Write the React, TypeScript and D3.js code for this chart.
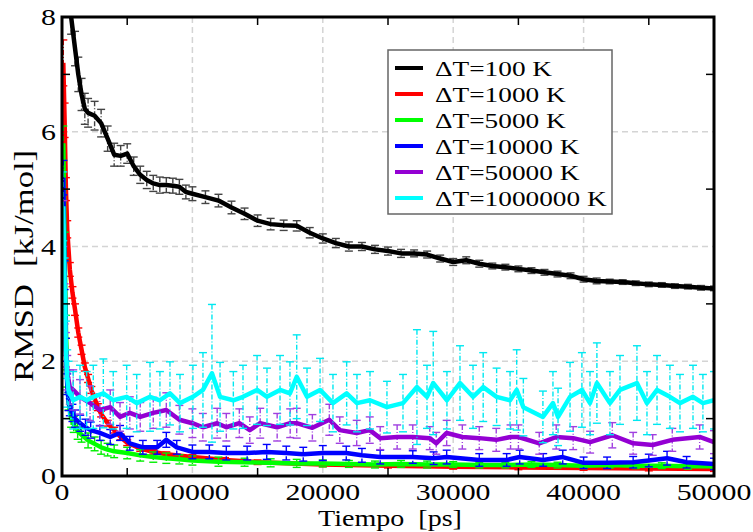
import React from 'react';
import * as d3 from 'd3';

const W = 753;
const H = 532;
const PL = 62, PR = 714, PT = 17, PB = 476;

const xMajor = [0, 10000, 20000, 30000, 40000, 50000];
const xMinor = [5000, 15000, 25000, 35000, 45000];
const yMajor = [0, 2, 4, 6, 8];
const yMinor = [1, 3, 5, 7];
const xGrid = [10000, 20000, 30000, 40000];
const yGrid = [2, 4, 6];

const legendLabels = ['ΔT=100 K', 'ΔT=1000 K', 'ΔT=5000 K', 'ΔT=10000 K', 'ΔT=50000 K', 'ΔT=1000000 K'];
const colors = ['#000000', '#ff0000', '#00ff00', '#0000ff', '#9400d3', '#00ffff'];
const errColors = ['#444444', '#ff0000', '#00ee00', '#0000ff', '#a040e0', '#00e8f0'];

// ΔT=100 K
const t100 = [700, 1000, 1250, 1500, 1750, 2000, 2500, 3000, 3500, 4000, 4500, 5000, 5500, 6000, 6500, 7000, 7500, 8000, 8500, 9000, 9500, 10000, 11000, 12000, 13000, 14000, 15000, 16000, 17000, 18000, 19000, 20000, 21000, 22000, 23000, 24000, 25000, 26000, 27000, 28000, 29000, 30000, 31000, 32000, 33000, 34000, 35000, 36000, 37000, 38000, 39000, 40000, 41000, 42000, 43000, 44000, 45000, 46000, 47000, 48000, 49000, 50000];
const v100 = [8.0, 7.45, 7.0, 6.65, 6.4, 6.33, 6.28, 6.15, 5.88, 5.6, 5.58, 5.62, 5.4, 5.25, 5.16, 5.1, 5.07, 5.07, 5.06, 5.04, 4.95, 4.92, 4.86, 4.8, 4.68, 4.57, 4.45, 4.39, 4.37, 4.36, 4.24, 4.14, 4.06, 4.0, 4.0, 3.95, 3.92, 3.88, 3.88, 3.86, 3.79, 3.73, 3.76, 3.7, 3.66, 3.64, 3.61, 3.58, 3.55, 3.52, 3.49, 3.43, 3.4, 3.39, 3.38, 3.36, 3.34, 3.33, 3.31, 3.3, 3.28, 3.27];
const e100 = [0.3, 0.3, 0.3, 0.28, 0.27, 0.25, 0.25, 0.24, 0.22, 0.2, 0.18, 0.17, 0.16, 0.15, 0.15, 0.14, 0.14, 0.13, 0.13, 0.13, 0.12, 0.12, 0.11, 0.11, 0.11, 0.1, 0.1, 0.1, 0.09, 0.09, 0.09, 0.08, 0.08, 0.08, 0.07, 0.07, 0.07, 0.07, 0.06, 0.06, 0.06, 0.06, 0.06, 0.06, 0.05, 0.05, 0.05, 0.05, 0.05, 0.05, 0.05, 0.05, 0.05, 0.04, 0.04, 0.04, 0.04, 0.04, 0.04, 0.04, 0.04, 0.04];

// ΔT=1000 K
const t1000 = [100, 200, 300, 400, 600, 800, 1000, 1250, 1500, 1750, 2000, 2250, 2500, 2750, 3000, 3500, 4000, 4500, 5000, 6000, 7000, 8000, 10000, 12500, 15000, 20000, 25000, 30000, 35000, 40000, 45000, 50000];
const v1000 = [7.2, 6.2, 5.0, 4.3, 3.6, 3.2, 2.9, 2.5, 2.2, 1.9, 1.7, 1.5, 1.35, 1.2, 1.08, 0.92, 0.8, 0.68, 0.58, 0.48, 0.42, 0.38, 0.33, 0.28, 0.24, 0.2, 0.18, 0.16, 0.15, 0.14, 0.13, 0.12];
const e1000 = [0.4, 0.3, 0.2, 0.15, 0.12, 0.1, 0.1, 0.08, 0.08, 0.07, 0.07, 0.06, 0.06, 0.06, 0.05, 0.05, 0.05, 0.05, 0.05, 0.05, 0.04, 0.04, 0.04, 0.04, 0.04, 0.04, 0.04, 0.04, 0.04, 0.04, 0.04, 0.04];

// ΔT=5000 K
const t5000 = [100, 200, 300, 400, 500, 700, 900, 1200, 1500, 2000, 2500, 3000, 3500, 4000, 5000, 6000, 7000, 8000, 9000, 10000, 12000, 14000, 16000, 18000, 20000, 22000, 24000, 26000, 28000, 30000, 32000, 34000, 36000, 38000, 40000, 42000, 44000, 46000, 48000, 50000];
const v5000 = [5.8, 4.0, 2.6, 1.7, 1.3, 1.0, 0.9, 0.78, 0.72, 0.62, 0.56, 0.5, 0.46, 0.43, 0.4, 0.36, 0.33, 0.31, 0.29, 0.27, 0.25, 0.24, 0.23, 0.22, 0.22, 0.21, 0.2, 0.21, 0.2, 0.2, 0.19, 0.19, 0.2, 0.19, 0.18, 0.19, 0.18, 0.18, 0.17, 0.17];
const e5000 = [0.3, 0.25, 0.2, 0.15, 0.15, 0.15, 0.14, 0.14, 0.13, 0.13, 0.12, 0.12, 0.11, 0.11, 0.1, 0.1, 0.09, 0.09, 0.08, 0.08, 0.08, 0.07, 0.07, 0.07, 0.06, 0.06, 0.06, 0.06, 0.06, 0.05, 0.05, 0.05, 0.05, 0.05, 0.05, 0.05, 0.05, 0.05, 0.05, 0.05];

// ΔT=10000 K
const t10000 = [100, 200, 300, 400, 500, 600, 800, 1000, 1400, 1800, 2200, 2900, 3700, 4450, 5200, 6200, 7300, 8000, 8800, 10000, 11300, 12600, 14200, 15700, 17200, 18500, 20000, 21800, 23000, 24400, 26900, 28500, 29500, 32000, 34100, 35100, 36900, 38400, 40000, 41800, 43800, 45000, 46400, 47900, 50000];
const v10000 = [5.2, 3.5, 2.2, 1.6, 1.3, 1.2, 1.1, 1.0, 0.92, 0.85, 0.8, 0.75, 0.68, 0.75, 0.57, 0.5, 0.5, 0.63, 0.5, 0.42, 0.42, 0.4, 0.4, 0.42, 0.4, 0.38, 0.4, 0.4, 0.36, 0.33, 0.33, 0.31, 0.33, 0.28, 0.28, 0.33, 0.28, 0.33, 0.23, 0.23, 0.24, 0.27, 0.31, 0.24, 0.21];
const e10000 = [0.3, 0.25, 0.2, 0.18, 0.16, 0.15, 0.15, 0.15, 0.14, 0.14, 0.14, 0.13, 0.13, 0.13, 0.12, 0.12, 0.12, 0.13, 0.12, 0.12, 0.12, 0.12, 0.12, 0.13, 0.12, 0.12, 0.13, 0.12, 0.12, 0.12, 0.11, 0.11, 0.12, 0.11, 0.11, 0.12, 0.11, 0.12, 0.1, 0.1, 0.1, 0.11, 0.12, 0.1, 0.1];

// ΔT=50000 K
const t50000 = [100, 200, 300, 400, 600, 860, 1380, 2150, 2900, 3700, 4450, 5200, 6000, 7000, 8000, 9000, 10000, 10800, 11900, 12600, 13600, 14400, 15200, 16500, 17500, 18000, 19200, 20500, 21300, 22600, 23600, 24400, 25700, 26900, 28200, 28700, 29500, 30700, 32000, 33300, 34400, 35000, 36600, 37900, 39200, 40500, 42200, 43800, 45300, 46800, 48900, 50000];
const v50000 = [4.4, 3.0, 2.2, 1.8, 1.55, 1.5, 1.38, 1.27, 1.15, 1.2, 1.03, 1.1, 1.03, 1.1, 1.15, 0.98, 0.92, 0.85, 0.92, 0.85, 0.92, 0.8, 0.92, 0.85, 0.92, 0.92, 0.84, 0.98, 0.8, 0.75, 0.8, 0.66, 0.68, 0.68, 0.66, 0.57, 0.75, 0.68, 0.66, 0.63, 0.68, 0.68, 0.57, 0.68, 0.66, 0.59, 0.71, 0.57, 0.54, 0.63, 0.68, 0.59];
const e50000 = [0.4, 0.35, 0.3, 0.3, 0.3, 0.35, 0.3, 0.3, 0.28, 0.3, 0.25, 0.28, 0.25, 0.27, 0.3, 0.25, 0.25, 0.24, 0.26, 0.24, 0.25, 0.23, 0.26, 0.24, 0.25, 0.26, 0.23, 0.27, 0.23, 0.22, 0.23, 0.2, 0.21, 0.21, 0.2, 0.19, 0.22, 0.21, 0.2, 0.2, 0.21, 0.21, 0.19, 0.21, 0.2, 0.19, 0.22, 0.19, 0.18, 0.2, 0.21, 0.2];

// ΔT=1000000 K
const t1e6 = [100, 200, 300, 400, 500, 860, 1380, 1890, 2400, 3170, 3930, 4960, 5730, 6750, 7510, 8280, 9050, 10040, 10810, 11500, 12120, 13140, 13880, 14960, 15720, 16720, 17480, 18000, 18790, 19790, 20780, 21830, 22620, 23620, 24920, 26150, 27220, 27990, 28470, 29520, 30520, 31520, 32300, 33330, 34360, 34870, 35380, 36880, 37650, 38040, 38960, 39870, 40490, 41020, 42020, 42790, 44090, 44860, 45630, 46620, 47390, 48390, 49150, 50000];
const v1e6 = [4.7, 3.3, 2.2, 1.7, 1.5, 1.32, 1.38, 1.32, 1.38, 1.44, 1.32, 1.38, 1.27, 1.38, 1.32, 1.44, 1.27, 1.38, 1.5, 1.79, 1.38, 1.32, 1.38, 1.5, 1.38, 1.5, 1.44, 1.73, 1.38, 1.5, 1.27, 1.44, 1.27, 1.32, 1.2, 1.27, 1.55, 1.38, 1.62, 1.32, 1.62, 1.38, 1.55, 1.38, 1.32, 1.5, 1.2, 1.03, 1.27, 1.03, 1.38, 1.5, 1.27, 1.62, 1.27, 1.5, 1.62, 1.27, 1.5, 1.38, 1.27, 1.38, 1.27, 1.32];
const e1e6 = [0.6, 0.5, 0.5, 0.5, 0.5, 0.5, 0.55, 0.5, 0.55, 0.6, 0.5, 0.55, 0.5, 0.6, 0.5, 0.55, 0.5, 0.55, 0.65, 1.2, 0.6, 0.5, 0.55, 0.6, 0.5, 0.6, 0.55, 0.73, 0.5, 0.55, 0.5, 0.55, 0.5, 0.5, 0.45, 0.5, 1.0, 0.55, 0.9, 0.5, 0.65, 0.55, 0.6, 0.5, 0.5, 0.7, 0.5, 0.45, 0.55, 0.5, 0.6, 0.65, 0.55, 0.7, 0.55, 0.6, 0.65, 0.55, 0.6, 0.55, 0.5, 0.55, 0.5, 0.5];

const seriesT = [t100, t1000, t5000, t10000, t50000, t1e6];
const seriesV = [v100, v1000, v5000, v10000, v50000, v1e6];
const seriesE = [e100, e1000, e5000, e10000, e50000, e1e6];

const x = d3.scaleLinear().domain([0, 50000]).range([PL, PR]);
const y = d3.scaleLinear().domain([0, 8]).range([PB, PT]);

const SX = 1.3;
const FONT = "'Liberation Serif', 'Times New Roman', serif";

function STxt(props: { x: number; y: number; size: number; sx?: number; anchor?: string; children: React.ReactNode }) {
  const s = props.sx ?? SX;
  return (
    <text transform={`translate(${props.x},${props.y}) scale(${s},1)`} fontSize={props.size} fontFamily={FONT} textAnchor={props.anchor || 'start'} fill="#000">
      {props.children}
    </text>
  );
}

export default function App() {
  const line = d3.line<[number, number]>().x(d => x(d[0])).y(d => y(d[1]));
  const tick = 8;
  return (
    <svg width={W} height={H} style={{ position: 'absolute', left: 0, top: 0, background: '#fff' }}>
      <defs>
        <clipPath id="plotClip">
          <rect x={PL} y={PT} width={PR - PL} height={PB - PT} />
        </clipPath>
      </defs>
      <rect x={0} y={0} width={W} height={H} fill="#fff" />
      {xGrid.map(v => (
        <line key={'gx' + v} x1={x(v)} x2={x(v)} y1={PT} y2={PB} stroke="#d4d4d4" strokeWidth={1.5} strokeDasharray="6,4" />
      ))}
      {yGrid.map(v => (
        <line key={'gy' + v} x1={PL} x2={PR} y1={y(v)} y2={y(v)} stroke="#d4d4d4" strokeWidth={1.5} strokeDasharray="6,4" />
      ))}
      <g clipPath="url(#plotClip)">
        {seriesT.map((ts, si) => {
          const pts: [number, number][] = ts.map((t, i) => [t, seriesV[si][i]]);
          return (
            <g key={'s' + si}>
              {ts.map((t, i) => {
                const v = seriesV[si][i];
                const e = seriesE[si][i];
                const cx = x(t);
                return (
                  <g key={i} stroke={errColors[si]} strokeWidth={1.4}>
                    <line x1={cx} x2={cx} y1={y(v + e)} y2={y(v - e)} strokeDasharray="5,2,1,2" />
                    <line x1={cx - 4} x2={cx + 4} y1={y(v + e)} y2={y(v + e)} />
                    <line x1={cx - 4} x2={cx + 4} y1={y(v - e)} y2={y(v - e)} />
                  </g>
                );
              })}
              <path d={line(pts) || ''} fill="none" stroke={colors[si]} strokeWidth={4.5} strokeLinejoin="round" />
            </g>
          );
        })}
      </g>
      {xMinor.map(v => (
        <g key={'tx' + v} stroke="#000" strokeWidth={1.5}>
          <line x1={x(v)} x2={x(v)} y1={PB} y2={PB - tick} />
          <line x1={x(v)} x2={x(v)} y1={PT} y2={PT + tick} />
        </g>
      ))}
      {yMinor.map(v => (
        <g key={'ty' + v} stroke="#000" strokeWidth={1.5}>
          <line x1={PL} x2={PL + tick} y1={y(v)} y2={y(v)} />
          <line x1={PR} x2={PR - tick} y1={y(v)} y2={y(v)} />
        </g>
      ))}
      <rect x={PL} y={PT} width={PR - PL} height={PB - PT} fill="none" stroke="#000" strokeWidth={3} />
      {xMajor.map(v => (
        <STxt key={'lx' + v} x={x(v)} y={500} size={23} anchor="middle">{String(v)}</STxt>
      ))}
      {yMajor.map(v => (
        <STxt key={'ly' + v} x={56} y={y(v) + 8} size={23} anchor="end">{String(v)}</STxt>
      ))}
      <STxt x={390} y={526} size={23} sx={1.22} anchor="middle">{'Tiempo\u00a0\u00a0[ps]'}</STxt>
      <text transform="translate(33,266) rotate(-90)" fontSize={27} fontFamily={FONT} textAnchor="middle" fill="#000" textLength={232} lengthAdjust="spacingAndGlyphs">
        {'RMSD\u00a0\u00a0[kJ/mol]'}
      </text>
      <rect x={388} y={50} width={224} height={164} fill="#fff" stroke="#666" strokeWidth={1.5} />
      {legendLabels.map((lab, i) => {
        const cy = 68 + i * 26;
        return (
          <g key={'lg' + i}>
            <line x1={395} x2={423} y1={cy} y2={cy} stroke={colors[i]} strokeWidth={4} />
            <STxt x={435} y={cy + 8} size={21}>{lab}</STxt>
          </g>
        );
      })}
    </svg>
  );
}
